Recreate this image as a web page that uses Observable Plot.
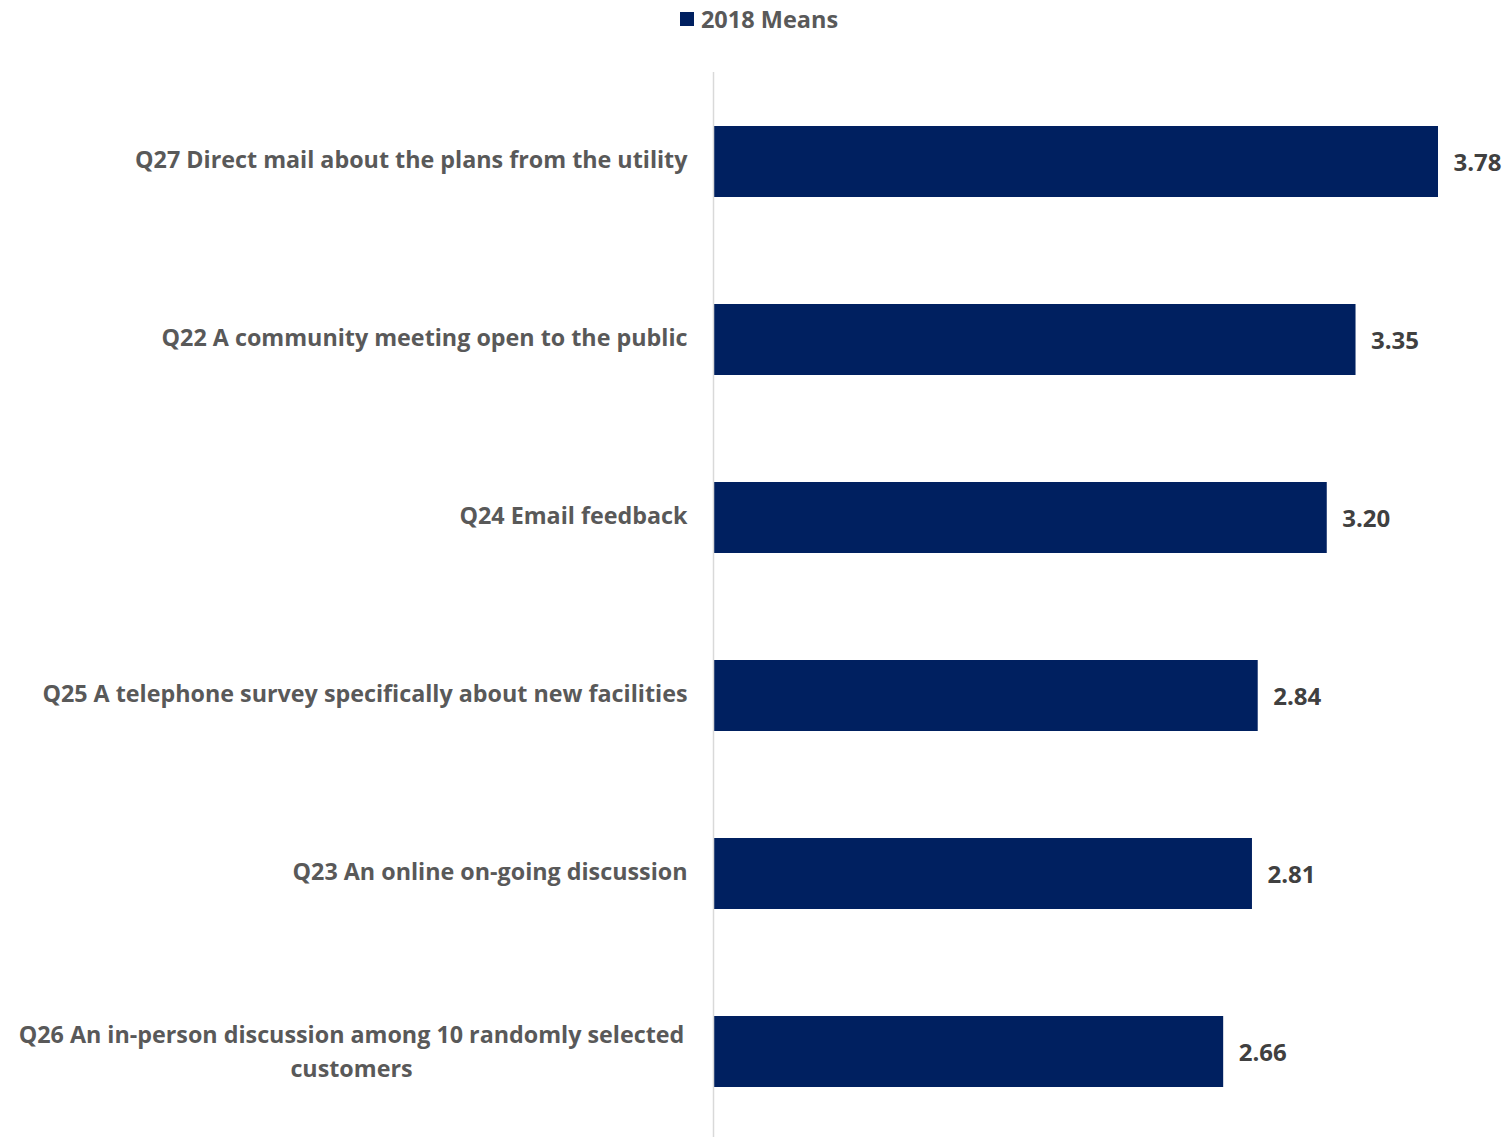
<!DOCTYPE html>
<html>
<head>
<meta charset="utf-8">
<script src="https://cdn.jsdelivr.net/npm/d3@7"></script>
<script src="https://cdn.jsdelivr.net/npm/@observablehq/plot@0.6"></script>
<style>
  body { margin: 0; background: #fff; font-family: "Open Sans", Lato, sans-serif; }
  #legend { height: 38px; display: flex; justify-content: center; align-items: center; padding-left: 12px; box-sizing: border-box; font-weight: bold; font-size: 23.5px; color: #595959; }
  #legend .sw { width: 14px; height: 14px; background: #002060; margin-right: 7px; }
  svg { display: block; }
</style>
</head>
<body>
<div id="legend"><span class="sw"></span><span id="legendText"></span></div>
<div id="chart"></div>
<script>
const seriesName = "2018 Means";
const categories = [
  "Q27 Direct mail about the plans from the utility",
  "Q22 A community meeting open to the public",
  "Q24 Email feedback",
  "Q25 A telephone survey specifically about new facilities",
  "Q23 An online on-going discussion",
  "Q26 An in-person discussion among 10 randomly selected customers"
];
const labelLines = [
  ["Q27 Direct mail about the plans from the utility"],
  ["Q22 A community meeting open to the public"],
  ["Q24 Email feedback"],
  ["Q25 A telephone survey specifically about new facilities"],
  ["Q23 An online on-going discussion"],
  ["Q26 An in-person discussion among 10 randomly selected", "customers"]
];
const values = [3.78, 3.35, 3.20, 2.84, 2.81, 2.66];

document.getElementById("legendText").textContent = seriesName;

const data = categories.map((c, i) => ({cat: c, value: values[i], lines: labelLines[i]}));
const single = data.filter(d => d.lines.length === 1);
const multi = data.filter(d => d.lines.length > 1);
const font = "'Open Sans', Lato, sans-serif";

const chart = Plot.plot({
  width: 1506,
  height: 1099,
  marginLeft: 713,
  marginRight: 68,
  marginTop: 34,
  marginBottom: 0,
  style: {fontFamily: font, background: "#fff"},
  x: {domain: [0, 3.78], axis: null},
  y: {domain: categories, range: [34, 1104], paddingInner: 0.6, paddingOuter: 0.3, axis: null},
  marks: [
    Plot.barX(data, {x: "value", y: "cat", fill: "#002060"}),
    Plot.ruleX([0], {stroke: "#d9d9d9", strokeWidth: 1.5}),
    Plot.text(data, {x: "value", y: "cat", text: d => d.value.toFixed(2), textAnchor: "start", dx: 15, dy: 1,
      fontSize: 24, fontWeight: "bold", fill: "#404040"}),
    Plot.text(single, {x: 0, y: "cat", text: d => d.lines[0], textAnchor: "end", dx: -26, dy: -1,
      fontSize: 23.3, fontWeight: "bold", fill: "#595959"}),
    Plot.text(multi, {x: 0, y: "cat", text: d => d.lines.join("\n"), textAnchor: "middle", dx: -362, dy: -3, lineHeight: 1.47,
      fontSize: 23.3, fontWeight: "bold", fill: "#595959"})
  ]
});
document.getElementById("chart").appendChild(chart);
</script>
</body>
</html>
